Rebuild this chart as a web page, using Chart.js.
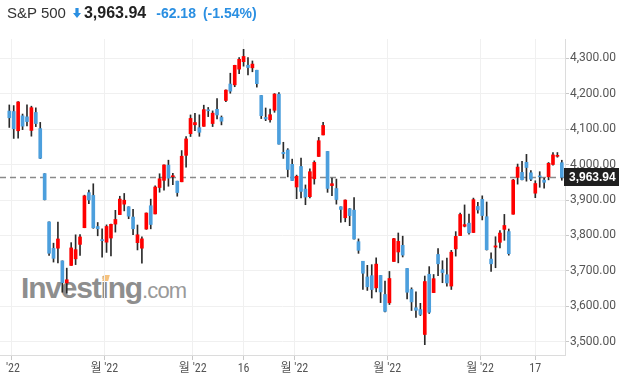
<!DOCTYPE html>
<html>
<head>
<meta charset="utf-8">
<script src="https://cdn.jsdelivr.net/npm/chart.js@4.4.1/dist/chart.umd.min.js"></script>
<style>
html,body{margin:0;padding:0;background:#fff;}
#wrap{position:relative;width:628px;height:380px;overflow:hidden;background:#fff;}
#c{position:absolute;left:0;top:0;z-index:2;}
#title{position:absolute;left:7px;top:3px;z-index:3;display:flex;align-items:baseline;white-space:nowrap;font-family:'Liberation Sans',Arial,sans-serif;line-height:20px;}
#title .name{font-size:15px;color:#333;}
#title .arrow{display:inline-block;width:8px;height:10px;margin-left:7px;margin-right:3px;position:relative;top:0px;}
#title .price{font-size:16px;font-weight:bold;color:#222;}
#title .chg{font-size:14px;font-weight:bold;color:#2a8fe2;margin-left:10px;}
#title .pct{font-size:14px;font-weight:bold;color:#2a8fe2;margin-left:7px;}
#wm{position:absolute;left:21px;top:273px;z-index:1;font-family:'Liberation Sans',Arial,sans-serif;line-height:1;white-space:nowrap;}
#wm .a{font-size:30px;font-weight:bold;color:#8e8e8e;letter-spacing:-1.2px;}
#wm .b{font-size:22px;color:#9a9a9a;letter-spacing:-0.8px;}
#wmdot{position:absolute;left:103px;top:275px;width:6px;height:6px;background:#f6c27e;z-index:1;transform:skewX(-15deg);}
</style>
</head>
<body>
<div id="wrap">
  <div id="wm"><span class="a">Investing</span><span class="b">.com</span></div>
  <div id="wmdot"></div>
  <canvas id="c" width="628" height="380"></canvas>
  <div id="title"><span class="name">S&amp;P 500</span><svg class="arrow" viewBox="0 0 8 10"><path d="M2.4 0h3.2v5h2.4L4 10 0 5h2.4z" fill="#2a8fe2"/></svg><span class="price">3,963.94</span><span class="chg">-62.18</span><span class="pct">(-1.54%)</span></div>
</div>
<script>
const dates = ["2022-05-31","2022-06-01","2022-06-02","2022-06-03","2022-06-06","2022-06-07","2022-06-08","2022-06-09","2022-06-10","2022-06-13","2022-06-14","2022-06-15","2022-06-16","2022-06-17","2022-06-21","2022-06-22","2022-06-23","2022-06-24","2022-06-27","2022-06-28","2022-06-29","2022-06-30",
"2022-07-01","2022-07-05","2022-07-06","2022-07-07","2022-07-08","2022-07-11","2022-07-12","2022-07-13","2022-07-14","2022-07-15","2022-07-18","2022-07-19","2022-07-20","2022-07-21","2022-07-22","2022-07-25","2022-07-26","2022-07-27","2022-07-28","2022-07-29",
"2022-08-01","2022-08-02","2022-08-03","2022-08-04","2022-08-05","2022-08-08","2022-08-09","2022-08-10","2022-08-11","2022-08-12","2022-08-15","2022-08-16","2022-08-17","2022-08-18","2022-08-19","2022-08-22","2022-08-23","2022-08-24","2022-08-25","2022-08-26","2022-08-29","2022-08-30","2022-08-31",
"2022-09-01","2022-09-02","2022-09-06","2022-09-07","2022-09-08","2022-09-09","2022-09-12","2022-09-13","2022-09-14","2022-09-15","2022-09-16","2022-09-19","2022-09-20","2022-09-21","2022-09-22","2022-09-23","2022-09-26","2022-09-27","2022-09-28","2022-09-29","2022-09-30",
"2022-10-03","2022-10-04","2022-10-05","2022-10-06","2022-10-07","2022-10-10","2022-10-11","2022-10-12","2022-10-13","2022-10-14","2022-10-17","2022-10-18","2022-10-19","2022-10-20","2022-10-21","2022-10-24","2022-10-25","2022-10-26","2022-10-27","2022-10-28","2022-10-31",
"2022-11-01","2022-11-02","2022-11-03","2022-11-04","2022-11-07","2022-11-08","2022-11-09","2022-11-10","2022-11-11","2022-11-14","2022-11-15","2022-11-16","2022-11-17","2022-11-18","2022-11-21","2022-11-22","2022-11-23","2022-11-25","2022-11-28"];

const openVals = [4151.09,4149.78,4095.41,4137.57,4134.72,4096.47,4147.12,4101.65,3974.39,3838.15,3763.52,3764.05,3728.18,3665.90,3715.31,3733.89,3774.71,3821.75,3920.76,3913.00,3825.09,3785.99,
3781.00,3792.61,3831.98,3858.85,3888.26,3880.94,3851.95,3779.67,3763.99,3818.00,3883.79,3860.73,3935.32,3955.47,3998.43,3965.72,3953.22,3951.43,4026.13,4087.33,
4112.38,4104.21,4107.96,4154.85,4115.87,4155.93,4133.11,4181.02,4227.40,4225.02,4269.37,4290.46,4280.40,4273.13,4266.31,4195.08,4133.09,4126.55,4153.26,4198.74,4034.58,4041.25,4000.67,
3936.73,3994.66,3930.89,3909.43,3959.94,4022.94,4083.67,4037.12,3940.73,3932.41,3880.95,3849.91,3875.23,3871.40,3782.36,3727.14,3682.72,3686.44,3651.94,3687.01,3633.48,
3609.78,3726.46,3753.25,3771.97,3706.74,3647.51,3595.86,3590.83,3520.37,3690.41,3638.65,3746.26,3703.11,3689.05,3657.10,3762.01,3799.44,3825.97,3834.69,3808.26,3881.85,
3901.79,3852.90,3733.25,3766.98,3780.71,3817.02,3810.94,3859.89,3963.72,3977.97,4006.41,3976.82,3919.26,3966.39,3956.23,3965.51,4000.30,4023.34,4005.36];

const highVals = [4168.34,4166.54,4177.51,4142.67,4168.78,4164.86,4160.14,4119.10,3974.39,3838.15,3778.18,3837.56,3728.18,3707.71,3779.65,3801.79,3802.58,3913.65,3927.72,3945.86,3836.50,3818.99,
3829.82,3832.19,3870.91,3910.63,3918.50,3880.94,3873.41,3829.44,3796.41,3863.62,3902.44,3939.81,3974.13,3999.29,4012.44,3975.30,3953.22,4039.56,4078.95,4140.15,
4144.95,4140.47,4167.66,4161.29,4151.58,4186.62,4137.30,4211.03,4257.91,4280.47,4301.79,4325.28,4302.18,4292.53,4266.31,4195.08,4159.77,4156.56,4200.54,4203.04,4062.99,4044.98,4015.37,
3970.23,4018.43,3942.55,3987.89,4010.50,4076.81,4119.28,4037.12,3961.94,3959.14,3880.95,3900.45,3876.01,3907.07,3790.28,3727.14,3715.67,3717.53,3736.74,3687.01,3671.44,
3698.35,3791.92,3806.91,3797.93,3706.74,3652.17,3640.66,3608.34,3685.41,3712.00,3689.73,3762.79,3728.58,3736.00,3757.89,3810.74,3862.85,3886.15,3859.95,3905.42,3893.73,
3911.79,3894.44,3750.59,3796.34,3813.95,3859.40,3818.20,3958.33,4001.48,4008.97,4028.84,3983.09,3954.33,3979.89,3962.00,4005.88,4033.78,4034.02,4012.27];

const lowVals = [4104.88,4073.85,4074.37,4098.67,4109.18,4080.19,4107.20,4017.17,3900.16,3743.59,3724.85,3722.30,3639.77,3636.87,3715.31,3717.69,3743.52,3821.75,3889.66,3820.14,3799.02,3738.67,
3752.10,3742.06,3809.37,3858.85,3869.34,3847.22,3802.36,3759.07,3721.56,3817.18,3818.63,3860.73,3922.03,3927.64,3938.85,3943.46,3910.74,3951.43,3992.97,4079.22,
4096.02,4079.81,4107.96,4135.42,4107.31,4128.97,4112.09,4177.26,4201.41,4219.78,4256.90,4277.77,4253.08,4261.98,4218.70,4129.86,4124.03,4119.97,4147.59,4057.66,4017.42,3965.21,3954.53,
3903.65,3906.21,3886.75,3906.03,3944.81,4022.94,4083.67,3921.65,3912.08,3888.28,3837.08,3838.50,3827.54,3789.49,3749.45,3647.47,3644.76,3623.29,3640.61,3610.40,3584.13,
3604.93,3726.46,3722.66,3739.22,3620.73,3588.10,3568.45,3573.86,3491.58,3579.68,3638.65,3686.53,3666.51,3656.44,3647.42,3741.65,3799.44,3824.07,3803.79,3808.26,3863.18,
3843.80,3758.68,3698.15,3708.84,3764.70,3786.28,3744.22,3859.89,3944.82,3956.40,3953.17,3954.34,3906.54,3935.98,3933.34,3956.88,3998.66,4020.76,3955.77];

const closeVals = [4132.15,4101.23,4176.82,4108.54,4121.43,4160.68,4115.77,4017.82,3900.86,3749.63,3735.48,3789.99,3666.77,3674.84,3764.79,3759.89,3795.73,3911.74,3900.11,3821.55,3818.83,3785.38,
3825.33,3831.39,3845.08,3902.62,3899.38,3854.43,3818.80,3801.78,3790.38,3863.16,3830.85,3936.69,3959.90,3998.95,3961.63,3966.84,3921.05,4023.61,4072.43,4130.29,
4118.63,4091.19,4155.17,4151.94,4145.19,4140.06,4122.47,4210.24,4207.27,4280.15,4297.14,4305.20,4274.04,4283.74,4228.48,4137.99,4128.73,4140.77,4199.12,4057.66,4030.61,3986.16,3955.00,
3966.85,3924.26,3908.19,3979.87,4006.18,4067.36,4110.41,3932.69,3946.01,3901.35,3873.33,3899.89,3855.93,3789.93,3757.99,3693.23,3655.04,3647.29,3719.04,3640.47,3585.62,
3678.43,3790.93,3783.28,3744.52,3639.66,3612.39,3588.84,3577.03,3669.91,3583.07,3677.95,3719.98,3695.16,3665.78,3752.75,3797.34,3859.11,3830.60,3807.30,3901.06,3871.98,
3856.10,3759.69,3719.89,3770.55,3806.80,3828.11,3748.57,3956.37,3992.93,3957.25,3991.73,3958.79,3946.56,3965.34,3949.94,4003.58,4027.26,4026.12,3963.94];

// x-axis ticks (index positions: month starts at day boundaries, day ticks at candle centres)
const xTickValues = [0.5, 21.5, 41.5, 53, 64.5, 85.5, 106.5, 119];
const xTickLabels = [" '22", "월 '22", "월 '22", "16", "월 '22", "월 '22", "월 '22", "17"];
const yTickValues = [3500, 3600, 3700, 3800, 3900, 4000, 4100, 4200, 4300];

const UP = '#ff0000';
const DOWN = '#4c9fdd';
const lastPrice = closeVals[closeVals.length - 1];
const fmt = v => v.toLocaleString('en-US', {minimumFractionDigits: 2, maximumFractionDigits: 2});

const priceLine = {
  id: 'priceLine',
  beforeDatasetsDraw(chart) {
    const {ctx, chartArea: a, scales: {y}} = chart;
    const py = Math.round(y.getPixelForValue(lastPrice)) + 0.5;
    ctx.save();
    ctx.strokeStyle = '#8a8a8a';
    ctx.lineWidth = 1.5;
    ctx.setLineDash([6, 4]);
    ctx.beginPath();
    ctx.moveTo(a.left, py);
    ctx.lineTo(a.right, py);
    ctx.stroke();
    ctx.restore();
  },
  afterDraw(chart) {
    const {ctx, chartArea: a, scales: {y}} = chart;
    const py = y.getPixelForValue(lastPrice);
    ctx.save();
    ctx.fillStyle = '#1f1f1f';
    ctx.fillRect(a.right - 1, Math.round(py - 9), 55, 18);
    ctx.fillStyle = '#ffffff';
    ctx.font = "bold 12px 'Liberation Sans', Arial, sans-serif";
    ctx.textAlign = 'left';
    ctx.textBaseline = 'middle';
    ctx.fillText(fmt(lastPrice), a.right + 4, py + 0.5);
    ctx.restore();
  }
};

const idx = dates.map((d, i) => i);

new Chart(document.getElementById('c').getContext('2d'), {
  type: 'bar',
  data: {
    datasets: [
      {
        label: 'body',
        data: idx.map(i => ({x: i, y: [openVals[i], closeVals[i]]})),
        backgroundColor: idx.map(i => closeVals[i] >= openVals[i] ? UP : DOWN),
        borderWidth: 0,
        barThickness: 3,
        minBarLength: 1,
        grouped: false,
        order: 0
      },
      {
        label: 'wick',
        data: idx.map(i => ({x: i, y: [lowVals[i], highVals[i]]})),
        backgroundColor: '#2a2a2a',
        borderWidth: 0,
        barThickness: 1,
        grouped: false,
        order: 1
      }
    ]
  },
  options: {
    responsive: false,
    animation: false,
    events: [],
    layout: {padding: {top: 39, left: 0, right: 0, bottom: 0}},
    plugins: {legend: {display: false}, tooltip: {enabled: false}, title: {display: false}},
    scales: {
      x: {
        type: 'linear',
        min: -2.104,
        max: 125.72,
        offset: false,
        grid: {offset: false, color: '#f0f0f0', tickColor: '#c8c8c8', tickLength: 5, drawTicks: true},
        border: {color: '#dcdcdc'},
        ticks: {
          autoSkip: false, maxRotation: 0, minRotation: 0, padding: 2, color: '#555',
          font: {family: "'Liberation Sans Narrow', 'Roboto Condensed', Roboto, 'Noto Sans CJK KR', sans-serif", size: 12},
          callback: (v, i) => xTickLabels[i]
        },
        afterBuildTicks: s => { s.ticks = xTickValues.map(v => ({value: v})); },
        afterFit: s => { s.height = 25; }
      },
      y: {
        type: 'linear',
        position: 'right',
        min: 3462.5,
        max: 4354.5,
        grid: {color: '#f0f0f0', tickColor: '#c8c8c8', tickLength: 4, drawTicks: true},
        border: {color: '#dcdcdc'},
        ticks: {
          padding: 1, color: '#555',
          font: {family: "Roboto, 'Liberation Sans', sans-serif", size: 12},
          callback: v => fmt(v)
        },
        afterBuildTicks: s => { s.ticks = yTickValues.map(v => ({value: v})); },
        afterFit: s => { s.width = 63; }
      }
    }
  },
  plugins: [priceLine]
});
</script>
</body>
</html>
